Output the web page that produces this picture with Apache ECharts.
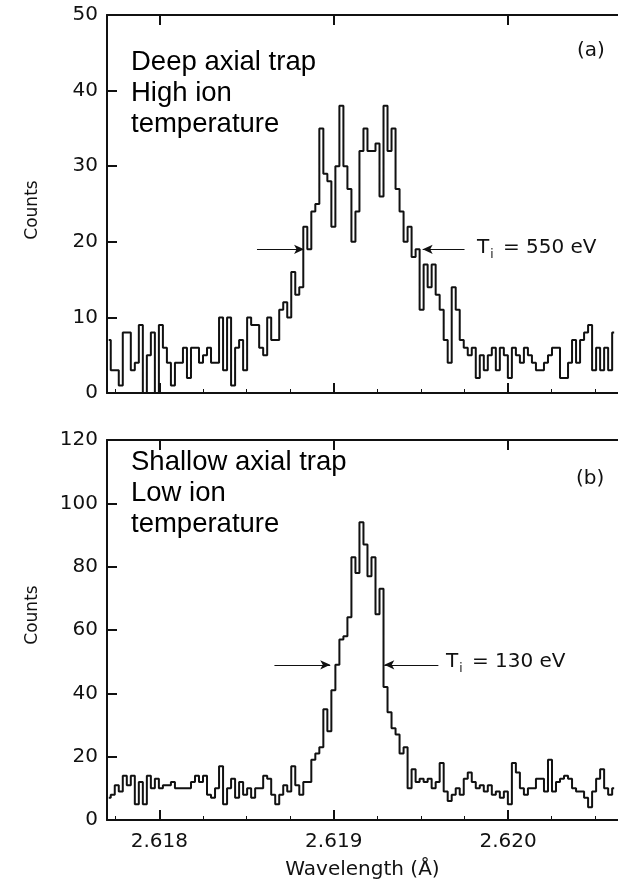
<!DOCTYPE html>
<html>
<head>
<meta charset="utf-8">
<script src="https://cdn.jsdelivr.net/npm/echarts@6/dist/echarts.min.js"></script>
<style>
html,body{margin:0;padding:0;background:#fff;}
#chart{width:618px;height:881px;}
</style>
</head>
<body>
<div id="chart"></div>
<script>
// ---- data ----
const wavelengthStart = 2.61771;   // centre of first channel (Å)
const channelWidth = 0.000023;     // channel width (Å)
const countsA = [7,3,3,1,8,8,3,4,9,0,5,8,0,9,6,4,1,4,4,6,2,6,6,4,5,6,4,4,10,3,10,1,6,7,3,10,9,9,6,5,
  10,7,7,11,12,10,16,13,14,22,19,24,25,35,29,28,22,30,38,30,27,20,24,32,35,32,32,33,26,38,
  32,35,27,24,20,22,18,19,11,17,14,17,13,11,7,4,14,11,7,6,5,6,2,5,3,5,6,3,6,5,
  2,6,5,4,6,5,4,3,3,4,5,6,6,2,2,4,7,4,7,8,9,3,6,3,6,3,8];
const countsB = [7,8,11,9,14,11,14,5,12,5,14,10,13,10,11,11,12,10,10,10,10,12,14,12,14,8,7,10,17,5,
  10,13,7,12,8,10,7,10,10,14,13,8,5,8,11,9,17,11,8,12,12,19,21,23,35,28,41,49,57,58,
  64,83,78,94,87,77,83,65,73,42,34,29,27,21,23,10,16,12,13,12,13,10,12,18,9,6,8,10,8,13,
  15,12,10,11,9,11,8,9,7,9,5,18,15,10,8,10,10,13,13,9,19,9,12,13,14,13,10,9,9,7,4,9,13,16,10,8,10];
const majorTicks = [2.618, 2.619, 2.620];
const minorTicks = [2.61775, 2.61825, 2.6185, 2.61875, 2.61925, 2.6195, 2.61975, 2.62025, 2.6205];
const xRange = [2.6177, 2.62063];
const yTicksA = [0, 10, 20, 30, 40, 50];
const yTicksB = [0, 20, 40, 60, 80, 100, 120];
// FWHM arrows: [tail, head] wavelengths and level (counts)
const arrowsA = [[2.61856, 2.61883], [2.61975, 2.61951]];
const arrowLevelA = 19;
const arrowsB = [[2.61866, 2.61898], [2.61960, 2.61929]];
const arrowLevelB = 49;
const labelA = ['Deep axial trap', 'High ion', 'temperature'];
const labelB = ['Shallow axial trap', 'Low ion', 'temperature'];
const tempA = '550 eV';
const tempB = '130 eV';

// ---- chart ----
const toPairs = arr => arr.map((v, i) => [wavelengthStart + i * channelWidth, v]);
const TF = 'DejaVu Sans';
const AF = 'Liberation Sans';
const ink = '#111';

function xAxes(gi, showLabels) {
  return [
    { // bottom major
      type: 'value', gridIndex: gi, min: xRange[0], max: xRange[1], position: 'bottom',
      axisLine: {show: true, onZero: false, lineStyle: {color: ink, width: 2}},
      axisTick: {show: true, inside: true, length: 10, customValues: majorTicks, lineStyle: {color: ink, width: 2}},
      axisLabel: {show: showLabels, customValues: majorTicks, formatter: v => v.toFixed(3),
        fontFamily: TF, fontSize: 20, color: ink, margin: 12},
      splitLine: {show: false},
      name: showLabels ? 'Wavelength (Å)' : '', nameLocation: 'middle', nameGap: 40,
      nameTextStyle: {fontFamily: TF, fontSize: 20, color: ink}
    },
    { // bottom minor
      type: 'value', gridIndex: gi, min: xRange[0], max: xRange[1], position: 'bottom',
      axisLine: {show: false, onZero: false},
      axisTick: {show: true, inside: true, length: 4, customValues: minorTicks, lineStyle: {color: ink, width: 1}},
      axisLabel: {show: false}, splitLine: {show: false}
    },
    { // top
      type: 'value', gridIndex: gi, min: xRange[0], max: xRange[1], position: 'top',
      axisLine: {show: true, onZero: false, lineStyle: {color: ink, width: 2}},
      axisTick: {show: true, inside: true, length: 10, customValues: majorTicks, lineStyle: {color: ink, width: 2}},
      axisLabel: {show: false}, splitLine: {show: false}
    }
  ];
}

function yAxis(gi, ticks) {
  return {
    type: 'value', gridIndex: gi, min: ticks[0], max: ticks[ticks.length - 1],
    interval: ticks[1] - ticks[0],
    axisLine: {show: true, lineStyle: {color: ink, width: 2}},
    axisTick: {show: true, inside: true, length: 10, lineStyle: {color: ink, width: 2}},
    axisLabel: {fontFamily: TF, fontSize: 20, color: ink, margin: 9},
    splitLine: {show: false}
  };
}

function arrowMarks(arrows, level) {
  return {
    silent: true, symbol: ['none', 'arrow'], symbolSize: [7, 10], precision: 6,
    lineStyle: {type: 'solid', color: ink, width: 1.2},
    label: {show: false}, emphasis: {disabled: true},
    data: arrows.map(a => [{coord: [a[0], level]}, {coord: [a[1], level]}])
  };
}

function series(data, xi, yi, arrows, level) {
  return {
    type: 'line', step: 'middle', xAxisIndex: xi, yAxisIndex: yi,
    data: toPairs(data), showSymbol: false, symbol: 'none', animation: false,
    lineStyle: {color: ink, width: 2}, z: 3,
    markLine: arrowMarks(arrows, level)
  };
}

function textBlock(lines, x, y) {
  return lines.map((t, k) => ({
    type: 'text', x: x, y: y + k * 31,
    style: {text: t, fontFamily: AF, fontSize: 27.5, fill: '#000', textVerticalAlign: 'middle'}
  }));
}

function tempText(val, x, y) {
  return {
    type: 'text', x: x, y: y,
    style: {
      text: '{t|T}{s|i}{t| = ' + val + '}',
      textVerticalAlign: 'middle',
      rich: {
        t: {fontFamily: TF, fontSize: 20, fill: ink, color: ink},
        s: {fontFamily: TF, fontSize: 12, fill: ink, color: ink, padding: [14, 3, 0, 1]}
      }
    }
  };
}

const chart = echarts.init(document.getElementById('chart'), null, {renderer: 'canvas'});
chart.setOption({
  backgroundColor: '#fff',
  animation: false,
  grid: [
    {left: 107, top: 15, width: 512, height: 378},
    {left: 107, top: 440, width: 512, height: 380}
  ],
  xAxis: [...xAxes(0, false), ...xAxes(1, true)],
  yAxis: [yAxis(0, yTicksA), yAxis(1, yTicksB)],
  series: [
    series(countsA, 0, 0, arrowsA, arrowLevelA),
    series(countsB, 3, 1, arrowsB, arrowLevelB)
  ],
  graphic: [
    ...textBlock(labelA, 131, 62),
    ...textBlock(labelB, 131, 462),
    {type: 'text', x: 577, y: 51, style: {text: '(a)', fontFamily: TF, fontSize: 20, fill: ink, textVerticalAlign: 'middle'}},
    {type: 'text', x: 576, y: 479, style: {text: '(b)', fontFamily: TF, fontSize: 20, fill: ink, textVerticalAlign: 'middle'}},
    tempText(tempA, 477, 248),
    tempText(tempB, 446, 662),
    {type: 'text', x: 33, y: 210, rotation: Math.PI / 2,
      style: {text: 'Counts', fontFamily: TF, fontSize: 17, fill: ink, textAlign: 'center', textVerticalAlign: 'middle'}},
    {type: 'text', x: 33, y: 615, rotation: Math.PI / 2,
      style: {text: 'Counts', fontFamily: TF, fontSize: 17, fill: ink, textAlign: 'center', textVerticalAlign: 'middle'}}
  ]
});
</script>
</body>
</html>
